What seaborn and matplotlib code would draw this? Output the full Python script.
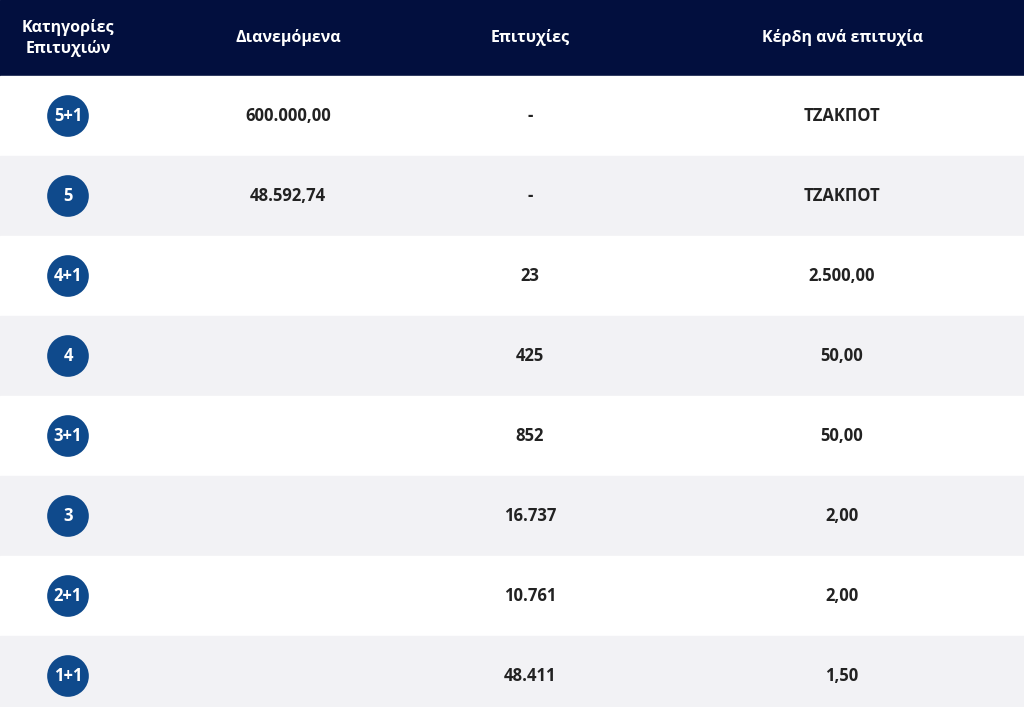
import matplotlib
matplotlib.use("Agg")
import matplotlib.pyplot as plt
import seaborn as sns
import pandas as pd

categories = ["5+1", "5", "4+1", "4", "3+1", "3", "2+1", "1+1"]
distributed = ["600.000,00", "48.592,74", "", "", "", "", "", ""]
winners = ["-", "-", "23", "425", "852", "16.737", "10.761", "48.411"]
prize = ["ΤΖΑΚΠΟΤ", "ΤΖΑΚΠΟΤ", "2.500,00", "50,00", "50,00", "2,00", "2,00", "1,50"]
headers = ["Κατηγορίες\nΕπιτυχιών", "Διανεμόμενα", "Επιτυχίες", "Κέρδη ανά επιτυχία"]

sns.set_style("white")
plt.rcParams["font.family"] = ["Open Sans", "DejaVu Sans"]

fig = plt.figure(figsize=(10.24, 7.07), dpi=100)
ax = fig.add_axes([0, 0, 1, 1])
ax.set_xlim(0, 1024)
ax.set_ylim(707, 0)
ax.axis("off")

col_x = [68, 288, 530, 842]
header_h = 76
row_h = 80

ax.add_patch(plt.Rectangle((0, 0), 1024, header_h, color="#020f3e", zorder=0))
for x, h in zip(col_x, headers):
    ax.text(x, header_h / 2, h, ha="center", va="center", color="white",
            fontsize=11.5, fontweight="bold", linespacing=1.3)

df = pd.DataFrame({"cat": categories, "dist": distributed, "win": winners, "prize": prize})
df["y"] = header_h + row_h / 2 + row_h * df.index
df["x"] = col_x[0]

for i, row in df.iterrows():
    top = header_h + i * row_h
    ax.add_patch(plt.Rectangle((0, top), 1024, row_h,
                               color="white" if i % 2 == 0 else "#f2f2f5", zorder=0))

sns.scatterplot(data=df, x="x", y="y", ax=ax, s=900, color="#0f4a8c",
                edgecolor="none", legend=False, zorder=2)

for _, row in df.iterrows():
    ax.text(row["x"], row["y"], row["cat"], ha="center", va="center",
            color="white", fontsize=12, fontweight="bold", zorder=3)
    for x, val in zip(col_x[1:], [row["dist"], row["win"], row["prize"]]):
        ax.text(x, row["y"], val, ha="center", va="center",
                color="#222222", fontsize=12, fontweight="bold")

ax.set_xlim(0, 1024)
ax.set_ylim(707, 0)
fig.savefig("out.png", dpi=100)
